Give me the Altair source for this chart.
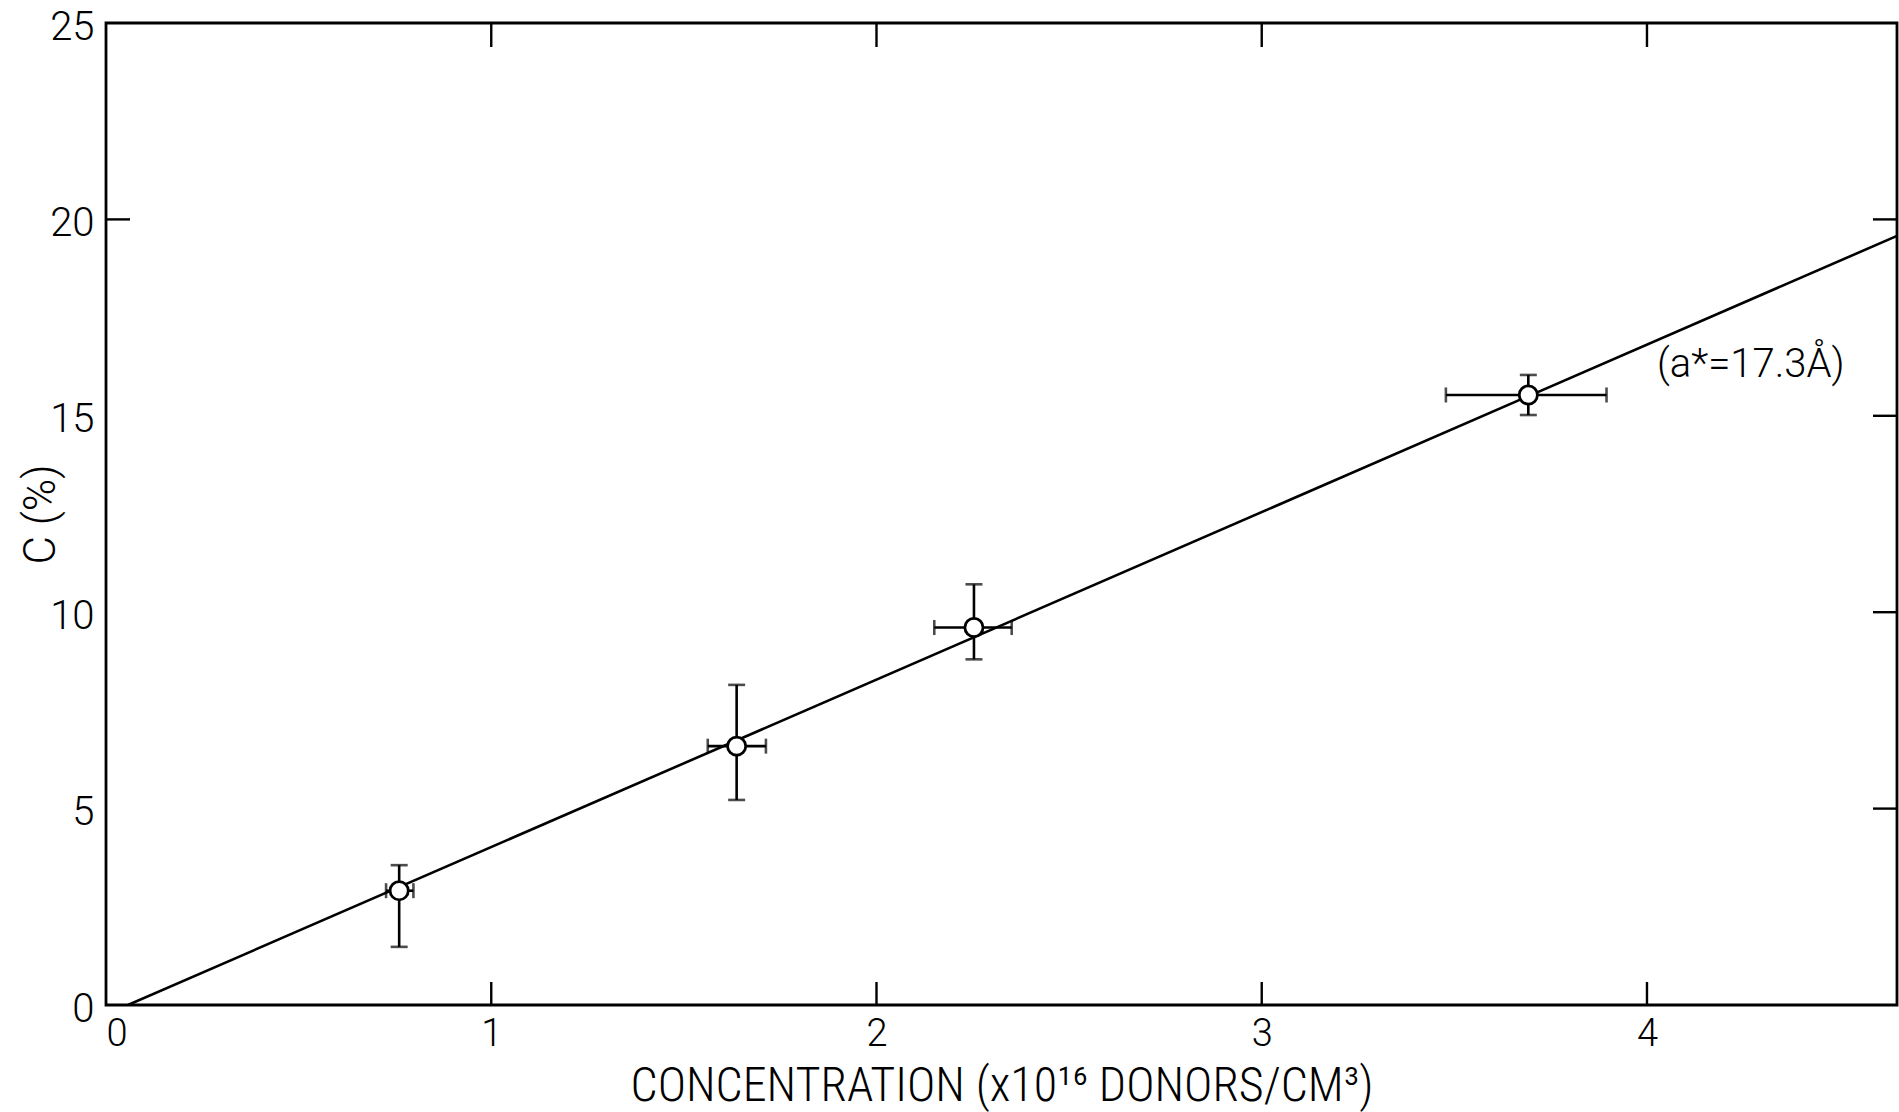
import altair as alt
import pandas as pd

# ---- data ----
conc = [0.761, 1.637, 2.253, 3.692]          # x10^16 donors/cm^3
c_pct = [2.91, 6.59, 9.61, 15.53]            # C (%)
conc_lo = [0.727, 1.562, 2.150, 3.478]
conc_hi = [0.798, 1.713, 2.351, 3.895]
c_lo = [1.48, 5.22, 8.80, 15.02]
c_hi = [3.56, 8.15, 10.71, 16.04]

fit_x = [0.057, 4.649]
fit_y = [0.0, 19.58]

x_tick_vals = [1, 2, 3, 4]
y_tick_right = [5, 10, 15, 20]
y_tick_left = [20]
x_labels = [0, 1, 2, 3, 4]
y_labels = [0, 5, 10, 15, 20, 25]

annot_text = ["(a*=17.3Å)"]
annot_x = [4.026]
annot_y = [15.99]

W, H = 1791, 982
FONT = "Roboto, Liberation Sans, sans-serif"
FONT_C = "Roboto Condensed, Liberation Sans Narrow, DejaVu Sans Condensed, sans-serif"
XMAX = 4.649

pts = pd.DataFrame({"x": conc, "y": c_pct, "xlo": conc_lo, "xhi": conc_hi,
                    "ylo": c_lo, "yhi": c_hi})
fit = pd.DataFrame({"x": fit_x, "y": fit_y})

xs = alt.Scale(domain=[0, XMAX], nice=False, zero=False)
ys = alt.Scale(domain=[0, 25], nice=False, zero=False)

x_axis = alt.Axis(values=x_labels, format="d", title="CONCENTRATION  (x10¹⁶ DONORS/CM³)",
                  grid=False, ticks=False, domain=False, labelFontSize=38,
                  labelFontWeight=300, labelPadding=10, labelFont=FONT,
                  labelColor="black", titleFont=FONT_C, titleFontSize=48,
                  titleFontWeight=300, titleColor="black", titleY=95,
                  titleBaseline="alphabetic")
y_axis = alt.Axis(values=y_labels, format="d", title="C (%)", grid=False, ticks=False,
                  domain=False, labelFontSize=40, labelFontWeight=300,
                  labelPadding=12, labelOffset=4, labelFont=FONT, labelColor="black",
                  titleFont=FONT, titleFontSize=44, titleFontWeight=300,
                  titleColor="black", titleX=-52, titleBaseline="alphabetic")

base = alt.Chart(pts)

line = alt.Chart(fit).mark_line(color="black", strokeWidth=2.6, clip=True).encode(
    x=alt.X("x:Q", scale=xs, axis=x_axis),
    y=alt.Y("y:Q", scale=ys, axis=y_axis),
)

vbars = base.mark_rule(color="black", strokeWidth=2.6).encode(
    x=alt.X("x:Q", scale=xs), y=alt.Y("ylo:Q", scale=ys), y2="yhi:Q")
hbars = base.mark_rule(color="black", strokeWidth=2.6).encode(
    y=alt.Y("y:Q", scale=ys), x=alt.X("xlo:Q", scale=xs), x2="xhi:Q")

cap_top = base.mark_tick(orient="horizontal", color="black", size=17, thickness=2.6).encode(
    x=alt.X("x:Q", scale=xs), y=alt.Y("yhi:Q", scale=ys))
cap_bot = base.mark_tick(orient="horizontal", color="black", size=17, thickness=2.6).encode(
    x=alt.X("x:Q", scale=xs), y=alt.Y("ylo:Q", scale=ys))
cap_l = base.mark_tick(orient="vertical", color="black", size=15, thickness=2.6).encode(
    x=alt.X("xlo:Q", scale=xs), y=alt.Y("y:Q", scale=ys))
cap_r = base.mark_tick(orient="vertical", color="black", size=15, thickness=2.6).encode(
    x=alt.X("xhi:Q", scale=xs), y=alt.Y("y:Q", scale=ys))

points = base.mark_point(shape="circle", filled=False, fill="white", fillOpacity=1,
                         stroke="black", strokeWidth=2.8, size=330, opacity=1).encode(
    x=alt.X("x:Q", scale=xs), y=alt.Y("y:Q", scale=ys))

# inward tick marks of the frame
xt = pd.DataFrame({"v": x_tick_vals})
yr = pd.DataFrame({"v": y_tick_right})
yl = pd.DataFrame({"v": y_tick_left})
ticks_bottom = alt.Chart(xt).mark_rule(color="black", strokeWidth=2.4).encode(
    x=alt.X("v:Q", scale=xs), y=alt.value(H), y2=alt.value(H - 23))
ticks_top = alt.Chart(xt).mark_rule(color="black", strokeWidth=2.4).encode(
    x=alt.X("v:Q", scale=xs), y=alt.value(0), y2=alt.value(24))
ticks_right = alt.Chart(yr).mark_rule(color="black", strokeWidth=2.4).encode(
    y=alt.Y("v:Q", scale=ys), x=alt.value(W), x2=alt.value(W - 24))
ticks_left = alt.Chart(yl).mark_rule(color="black", strokeWidth=2.4).encode(
    y=alt.Y("v:Q", scale=ys), x=alt.value(0), x2=alt.value(24))

annot = alt.Chart(pd.DataFrame({"t": annot_text, "x": annot_x, "y": annot_y})).mark_text(
    align="left", baseline="alphabetic", fontSize=40, fontWeight=300, font=FONT,
    color="black").encode(
    x=alt.X("x:Q", scale=xs), y=alt.Y("y:Q", scale=ys), text="t:N")

chart = alt.layer(line, vbars, hbars, cap_top, cap_bot, cap_l, cap_r, points,
                  ticks_bottom, ticks_top, ticks_right, ticks_left, annot).properties(
    width=W, height=H,
    autosize=alt.AutoSizeParams(type="none"),
    padding={"left": 106, "top": 23, "right": 2, "bottom": 107},
    background="white",
).configure_view(stroke="black", strokeWidth=2.8)

chart.save("out.html", embed_options={"renderer": "svg", "actions": False})
